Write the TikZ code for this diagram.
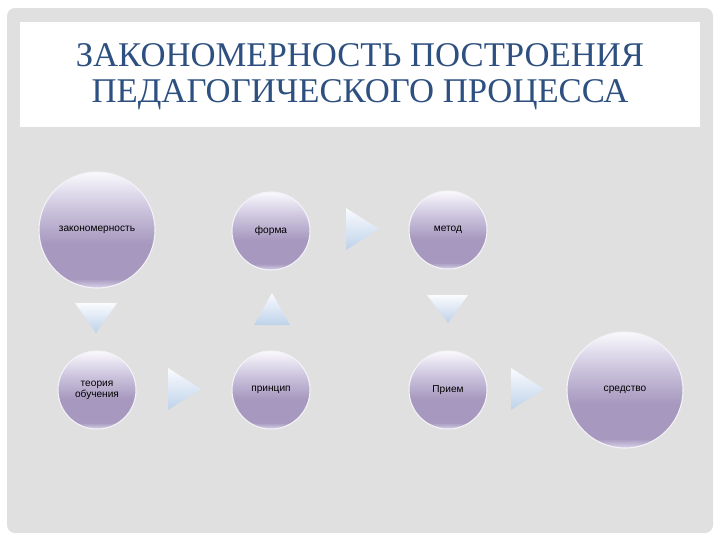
\documentclass[tikz,border=0pt]{standalone}
\usepackage{fontspec}
\setmainfont{Liberation Serif}
\newfontfamily\bubfont{Liberation Sans}
\usetikzlibrary{positioning}

\definecolor{panelgray}{RGB}{224,224,224}
\definecolor{titleblue}{RGB}{45,80,128}
\definecolor{bubrim}{RGB}{218,212,234}
\definecolor{bubdark}{RGB}{166,152,190}
\definecolor{bubmid}{RGB}{206,199,223}
\definecolor{bubtop}{RGB}{250,249,253}
\definecolor{tritop}{RGB}{250,251,254}
\definecolor{tribot}{RGB}{190,210,234}

\pgfdeclareverticalshading{bubble}{100bp}{color(0bp)=(bubrim); color(25bp)=(bubrim); color(29bp)=(bubdark); color(44bp)=(bubdark); color(60bp)=(bubmid); color(75bp)=(bubtop); color(100bp)=(bubtop)}

\tikzset{
  bub/.style={circle, shading=bubble, draw=white!70!bubrim, line width=0.8pt, inner sep=0pt, font=\bubfont\fontsize{7.6}{8}\selectfont, align=center},
  bigbub/.style={bub, minimum size=87pt},
  smallbub/.style={bub, minimum size=58.5pt},
  tri/.style={top color=tritop, bottom color=tribot, draw=none}
}

\begin{document}
\begin{tikzpicture}[x=0.75pt,y=0.75pt,yscale=-1,xscale=1]
		\useasboundingbox (0,0) rectangle (720,540);
		
		% panel and title box
		\fill [white] (0,0) rectangle (720,540);
		\fill [panelgray, rounded corners=6] (7,8) rectangle (713,533);
		\fill [white!96!panelgray] (20,22) rectangle (700,127);
		\fill [white] (23,24) rectangle (697,124);
		\node [titleblue, align=center, font=\fontsize{26}{27}\selectfont] (title) at (360,77) {ЗАКОНОМЕРНОСТЬ ПОСТРОЕНИЯ\\ПЕДАГОГИЧЕСКОГО ПРОЦЕССА};
		
		% circles
		\node [bigbub] (zakon) at (97,230) {закономерность};
		\node [smallbub] (forma) at (271,231) {форма};
		\node [smallbub] (metod) at (448,230) {метод};
		\node [smallbub] (teoria) at (97,390) {теория\\обучения};
		\node [smallbub] (princip) at (271,390) {принцип};
		\node [smallbub] (priem) at (448,390) {Прием};
		\node [bigbub] (sredstvo) at (625,390) {средство};
		
		% arrows
		\shade [tri] (346,208) -- (379,229) -- (346,250) -- cycle;
		\shade [tri] (75,303) -- (117,303) -- (96,333) -- cycle;
		\shade [tri] (254,325) -- (272,293) -- (290,325) -- cycle;
		\shade [tri] (427,295) -- (468,295) -- (448,323) -- cycle;
		\shade [tri] (168,368) -- (201,389) -- (168,410) -- cycle;
		\shade [tri] (511,368) -- (544,389) -- (511,410) -- cycle;
		
\end{tikzpicture}
\end{document}
